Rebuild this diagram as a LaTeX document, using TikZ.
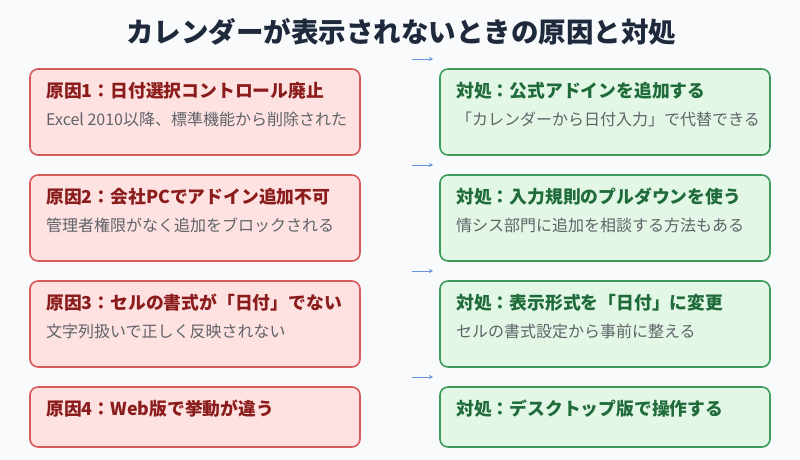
\documentclass[tikz,border=0pt]{standalone}
\usepackage{fontspec}
\setmainfont{Noto Sans CJK JP}
\usepackage{xcolor}
\definecolor{PageBg}{HTML}{F8FAFC}
\definecolor{TitleInk}{HTML}{1E293B}
\definecolor{CauseFill}{HTML}{FEE2E2}
\definecolor{CauseLine}{HTML}{D9595B}
\definecolor{CauseInk}{HTML}{8B1C1C}
\definecolor{FixFill}{HTML}{E3F7E6}
\definecolor{FixLine}{HTML}{3E9A5C}
\definecolor{FixInk}{HTML}{1F6B3A}
\definecolor{NoteInk}{HTML}{5F6368}
\definecolor{ArrowBlue}{HTML}{6B93E6}
\usepackage{tikz}
\usetikzlibrary{
  positioning,
  arrows.meta
}

\begin{document}
\begin{tikzpicture}[
    x=1pt, y=-1pt,
    node distance=20pt and 80pt,
    box/.style={
      rectangle, rounded corners=8pt, line width=1.6pt,
      anchor=north west, outer sep=0pt, inner sep=0pt,
      minimum width=330pt, minimum height=86pt
    },
    cause/.style={box, fill=CauseFill, draw=CauseLine},
    fix/.style={box, fill=FixFill, draw=FixLine},
    head/.style={anchor=west, inner sep=0pt, font=\fontsize{17.8}{20}\selectfont\bfseries},
    note/.style={anchor=west, inner sep=0pt, text=NoteInk, font=\fontsize{16}{19}\selectfont},
    flow/.style={-{Stealth[length=4pt,width=4pt]}, line width=0.8pt, ArrowBlue}
  ]
    \fill[PageBg] (0,0) rectangle (800,460);
    \node[font=\fontsize{27.5}{32}\selectfont\bfseries, text=TitleInk] (ttl) at (401,32)
      {カレンダーが表示されないときの原因と対処};

    % causes
    \node[cause] (c1) at (30,69) {};
    \node[cause, below=of c1] (c2) {};
    \node[cause, below=of c2] (c3) {};
    \node[cause, below=of c3, minimum height=60pt] (c4) {};

    % fixes
    \node[fix, right=of c1] (f1) {};
    \node[fix, right=of c2] (f2) {};
    \node[fix, right=of c3] (f3) {};
    \node[fix, right=of c4, minimum height=60pt] (f4) {};

    \node[head, text=CauseInk] (c1h) at ([xshift=16pt,yshift=-22pt]c1.north west) {原因1：日付選択コントロール廃止};
    \node[note] (c1n) at ([xshift=16pt,yshift=-50pt]c1.north west) {Excel 2010以降、標準機能から削除された};
    \node[head, text=CauseInk] (c2h) at ([xshift=16pt,yshift=-22pt]c2.north west) {原因2：会社PCでアドイン追加不可};
    \node[note] (c2n) at ([xshift=16pt,yshift=-50pt]c2.north west) {管理者権限がなく追加をブロックされる};
    \node[head, text=CauseInk] (c3h) at ([xshift=16pt,yshift=-22pt]c3.north west) {原因3：セルの書式が「日付」でない};
    \node[note] (c3n) at ([xshift=16pt,yshift=-50pt]c3.north west) {文字列扱いで正しく反映されない};
    \node[head, text=CauseInk] (c4h) at ([xshift=16pt,yshift=-22pt]c4.north west) {原因4：Web版で挙動が違う};

    \node[head, text=FixInk] (f1h) at ([xshift=16pt,yshift=-22pt]f1.north west) {対処：公式アドインを追加する};
    \node[note] (f1n) at ([xshift=16pt,yshift=-50pt]f1.north west) {「カレンダーから日付入力」で代替できる};
    \node[head, text=FixInk] (f2h) at ([xshift=16pt,yshift=-22pt]f2.north west) {対処：入力規則のプルダウンを使う};
    \node[note] (f2n) at ([xshift=16pt,yshift=-50pt]f2.north west) {情シス部門に追加を相談する方法もある};
    \node[head, text=FixInk] (f3h) at ([xshift=16pt,yshift=-22pt]f3.north west) {対処：表示形式を「日付」に変更};
    \node[note] (f3n) at ([xshift=16pt,yshift=-50pt]f3.north west) {セルの書式設定から事前に整える};
    \node[head, text=FixInk] (f4h) at ([xshift=16pt,yshift=-22pt]f4.north west) {対処：デスクトップ版で操作する};

    % small arrows above each fix
    \foreach \i in {1,...,4} {
      \coordinate (a\i s) at ([xshift=-28pt,yshift=10pt]f\i.north west);
      \coordinate (a\i e) at ([xshift=-7pt,yshift=10pt]f\i.north west);
      \draw[flow] (a\i s) -- (a\i e);
    }
  \end{tikzpicture}
\end{document}
